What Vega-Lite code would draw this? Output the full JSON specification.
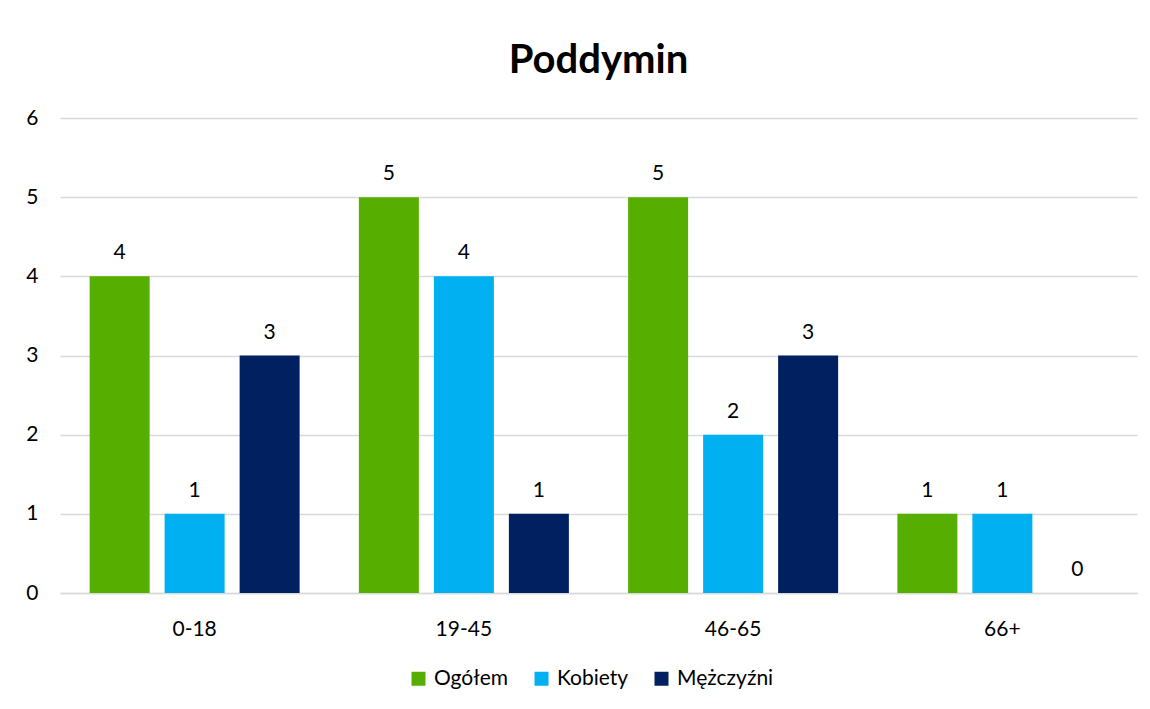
{
  "$schema": "https://vega.github.io/schema/vega-lite/v6.json",
  "width": 1077,
  "height": 475,
  "autosize": {"type": "none"},
  "padding": {"left": 60, "top": 118, "right": 13, "bottom": 116},
  "background": "white",
  "title": {
    "text": "Poddymin",
    "fontSize": 40,
    "fontWeight": "bold",
    "font": "Lato",
    "color": "#000000",
    "anchor": "middle",
    "offset": 26
  },
  "data": {
    "values": [
      {"grupa": "0-18", "seria": "Ogółem", "liczba": 4},
      {"grupa": "0-18", "seria": "Kobiety", "liczba": 1},
      {"grupa": "0-18", "seria": "Mężczyźni", "liczba": 3},
      {"grupa": "19-45", "seria": "Ogółem", "liczba": 5},
      {"grupa": "19-45", "seria": "Kobiety", "liczba": 4},
      {"grupa": "19-45", "seria": "Mężczyźni", "liczba": 1},
      {"grupa": "46-65", "seria": "Ogółem", "liczba": 5},
      {"grupa": "46-65", "seria": "Kobiety", "liczba": 2},
      {"grupa": "46-65", "seria": "Mężczyźni", "liczba": 3},
      {"grupa": "66+", "seria": "Ogółem", "liczba": 1},
      {"grupa": "66+", "seria": "Kobiety", "liczba": 1},
      {"grupa": "66+", "seria": "Mężczyźni", "liczba": 0}
    ]
  },
  "encoding": {
    "x": {
      "field": "grupa",
      "type": "nominal",
      "sort": ["0-18", "19-45", "46-65", "66+"],
      "scale": {"paddingInner": 0, "paddingOuter": 0},
      "axis": {
        "title": null,
        "labelAngle": 0,
        "ticks": false,
        "domain": true,
        "domainColor": "#D9D9D9",
        "domainWidth": 1.5,
        "labelFont": "Lato",
        "labelFontSize": 21,
        "labelColor": "#000000",
        "labelPadding": 25
      }
    },
    "xOffset": {
      "field": "seria",
      "type": "nominal",
      "sort": ["Ogółem", "Kobiety", "Mężczyźni"],
      "scale": {"paddingInner": 0.2, "paddingOuter": 0.395}
    },
    "y": {
      "field": "liczba",
      "type": "quantitative",
      "scale": {"domain": [0, 6]},
      "axis": {
        "title": null,
        "values": [0, 1, 2, 3, 4, 5, 6],
        "labelOverlap": false,
        "ticks": false,
        "domain": false,
        "grid": true,
        "gridColor": "#D9D9D9",
        "gridWidth": 1.5,
        "labelFont": "Lato",
        "labelFontSize": 21,
        "labelColor": "#000000",
        "labelPadding": 22
      }
    }
  },
  "layer": [
    {
      "mark": {"type": "bar"},
      "encoding": {
        "color": {
          "field": "seria",
          "type": "nominal",
          "sort": ["Ogółem", "Kobiety", "Mężczyźni"],
          "scale": {
            "domain": ["Ogółem", "Kobiety", "Mężczyźni"],
            "range": ["#55AE00", "#00B0F0", "#002060"]
          },
          "legend": {
            "title": null,
            "orient": "none",
            "direction": "horizontal",
            "legendX": 348,
            "legendY": 550,
            "symbolType": "square",
            "symbolSize": 196,
            "symbolStrokeWidth": 0,
            "labelFont": "Lato",
            "labelFontSize": 21,
            "labelColor": "#000000",
            "labelOffset": 5,
            "columnPadding": 22
          }
        }
      }
    },
    {
      "mark": {
        "type": "text",
        "baseline": "bottom",
        "dy": -13,
        "font": "Lato",
        "fontSize": 21,
        "color": "#000000"
      },
      "encoding": {
        "text": {"field": "liczba", "type": "quantitative"}
      }
    }
  ],
  "config": {
    "view": {"stroke": null}
  }
}
